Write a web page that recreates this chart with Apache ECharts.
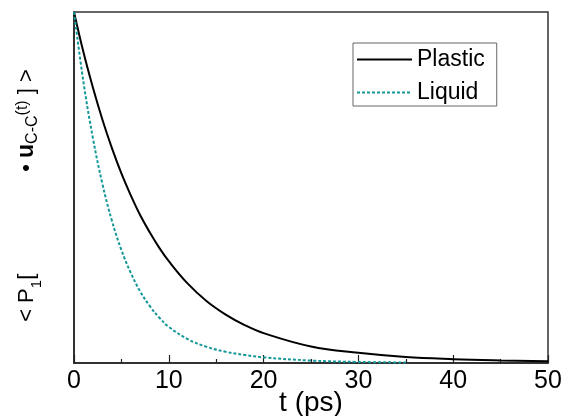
<!DOCTYPE html>
<html>
<head>
<meta charset="utf-8">
<script src="https://cdn.jsdelivr.net/npm/echarts@6/dist/echarts.min.js"></script>
<style>
  html, body { margin: 0; padding: 0; background: #fff; }
  #chart { width: 561px; height: 416px; }
</style>
</head>
<body>
<div id="chart"></div>
<script>
// Orientational correlation decay of the C-C bond vector
const plasticT = [0, 1, 2, 3, 4, 5, 6, 7, 8, 9, 10, 12, 14, 16, 18, 20, 25, 30, 35, 40, 45, 50];
const plasticV = [1.0, 0.885, 0.784, 0.693, 0.612, 0.540, 0.477, 0.42, 0.372, 0.328, 0.29, 0.226, 0.176, 0.138, 0.108, 0.085, 0.047, 0.029, 0.017, 0.011, 0.0074, 0.005];

const liquidT = [0, 1, 2, 3, 4, 5, 6, 7, 8, 9, 10, 12, 14, 16, 18, 20, 25, 30, 35];
const liquidV = [1.0, 0.80, 0.64, 0.51, 0.405, 0.322, 0.256, 0.203, 0.162, 0.129, 0.103, 0.068, 0.046, 0.032, 0.023, 0.016, 0.007, 0.003, 0.0015];

const xTicks = [0, 10, 20, 30, 40, 50];

const FONT = 'Liberation Sans, Arial, sans-serif';

function pairs(ts, vs) { return ts.map((t, i) => [t, vs[i]]); }

const chart = echarts.init(document.getElementById('chart'));
chart.setOption({
  animation: false,
  backgroundColor: '#fff',
  textStyle: { fontFamily: FONT },
  grid: {
    left: 74, right: 13, top: 12, bottom: 53,
    outerBoundsMode: 'none', containLabel: false,
    show: true, borderColor: '#333', borderWidth: 1.5, backgroundColor: 'transparent'
  },
  legend: {
    orient: 'vertical',
    left: 353, top: 43,
    padding: [5, 12, 2, 3],
    itemGap: 10,
    itemWidth: 55, itemHeight: 14,
    itemStyle: { opacity: 0 },
    borderColor: '#666', borderWidth: 1,
    textStyle: { fontSize: 23, color: '#000', fontFamily: FONT },
    data: ['Plastic', 'Liquid']
  },
  xAxis: {
    type: 'value',
    min: xTicks[0], max: xTicks[xTicks.length - 1], interval: 10,
    name: 't (ps)', nameLocation: 'middle', nameGap: 26, nameMoveOverlap: false,
    nameTextStyle: { fontSize: 28, color: '#000', fontFamily: FONT },
    axisLine: { lineStyle: { color: '#222', width: 1.5 } },
    axisTick: { inside: true, length: 8, lineStyle: { color: '#222', width: 1.2 } },
    minorTick: { show: true, splitNumber: 2, length: 4, lineStyle: { color: '#222', width: 1.2 } },
    axisLabel: { fontSize: 25, color: '#000', margin: 6, fontFamily: FONT },
    splitLine: { show: false }
  },
  yAxis: {
    type: 'value', min: 0, max: 1,
    name: '{n|< P}{s1|1}{n|[}{gap|}{n|• }{b|u}{s|C-C}{t|(t)}{n| ] >}',
    nameLocation: 'middle', nameGap: 36, nameRotate: 90, nameMoveOverlap: false,
    nameTextStyle: {
      color: '#000', fontFamily: FONT,
      padding: [0, 16, 0, 0],
      rich: {
        n: { fontSize: 22, color: '#000', fontFamily: FONT },
        b: { fontSize: 23, fontWeight: 'bold', color: '#000', fontFamily: FONT },
        s1: { fontSize: 15, color: '#000', fontFamily: FONT, verticalAlign: 'bottom', padding: [0, 0, -6, 0] },
        s: { fontSize: 16, color: '#000', fontFamily: FONT, verticalAlign: 'bottom', padding: [0, 0, -3, 0] },
        t: { fontSize: 16, color: '#000', fontFamily: FONT, verticalAlign: 'top' },
        gap: { width: 102 }
      }
    },
    axisLine: { show: true, lineStyle: { color: '#222', width: 1.5 } },
    axisTick: { show: false },
    axisLabel: { show: false },
    splitLine: { show: false }
  },
  series: [
    {
      name: 'Plastic', type: 'line', smooth: 0.4, symbol: 'none',
      data: pairs(plasticT, plasticV),
      lineStyle: { color: '#000', width: 2 },
      itemStyle: { color: '#000' }
    },
    {
      name: 'Liquid', type: 'line', smooth: 0.4, symbol: 'none',
      data: pairs(liquidT, liquidV),
      lineStyle: { color: '#139797', width: 2, type: [3, 2] },
      itemStyle: { color: '#139797' }
    }
  ]
});
</script>
</body>
</html>
